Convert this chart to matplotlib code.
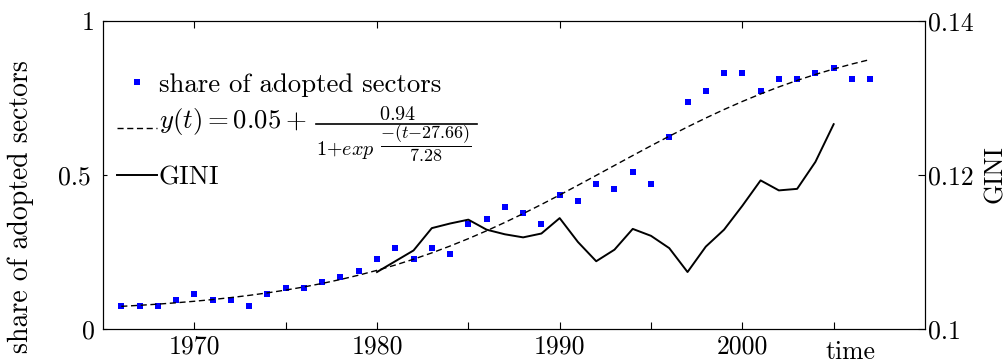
import numpy as np
import matplotlib
matplotlib.use("Agg")
import matplotlib.pyplot as plt
import matplotlib.transforms as mtransforms
from matplotlib.lines import Line2D

plt.rcParams["font.family"] = "cmr10"
plt.rcParams["mathtext.fontset"] = "cm"
plt.rcParams["axes.formatter.use_mathtext"] = True

# share of sectors that have adopted, per year
years = np.arange(1966, 2008)
share = [0.076, 0.076, 0.076, 0.094, 0.113, 0.094, 0.094, 0.076, 0.113, 0.132,
         0.132, 0.151, 0.170, 0.189, 0.226, 0.264, 0.226, 0.264, 0.245, 0.340,
         0.358, 0.396, 0.377, 0.340, 0.434, 0.415, 0.472, 0.453, 0.509, 0.472,
         0.623, 0.736, 0.774, 0.830, 0.830, 0.774, 0.811, 0.811, 0.830, 0.849,
         0.811, 0.811]

# logistic fit parameters (t counted in years from 1965)
fit_base, fit_amp, fit_mid, fit_scale = 0.05, 0.94, 27.66, 7.28
t0 = 1965

# GINI coefficient
gini_years = np.arange(1980, 2006)
gini = [0.1074, 0.1088, 0.1102, 0.1131, 0.1137, 0.1142, 0.1129, 0.1123, 0.1119,
        0.1124, 0.1144, 0.1113, 0.1088, 0.1103, 0.1130, 0.1121, 0.1105, 0.1074,
        0.1107, 0.1129, 0.1160, 0.1193, 0.1180, 0.1182, 0.1217, 0.1266]

xticks = [1970, 1980, 1990, 2000]
xminor = [1975, 1985, 1995, 2005]
left_ticks = [0, 0.5, 1]
left_labels = ["0", "0.5", "1"]
right_ticks = [0.1, 0.12, 0.14]
right_labels = ["0.1", "0.12", "0.14"]

FS = 18.5
LEG_FS = 19.3

fig = plt.figure(figsize=(10.07, 3.61), dpi=100)
W, H = 1007, 361
ax = fig.add_axes([103 / W, 1 - 329 / H, 822 / W, 308 / H])
ax2 = ax.twinx()

t = years - t0
fit = fit_base + fit_amp / (1 + np.exp(-(t - fit_mid) / fit_scale))

h1, = ax.plot(years, share, linestyle="none", marker="s", markersize=3.8,
              color="#0000ff", markeredgewidth=0)
h2, = ax.plot(years, fit, color="black", linewidth=1.0, dashes=(4.4, 2.6))
h3, = ax2.plot(gini_years, gini, color="black", linewidth=1.4)

ax.set_xlim(1965, 2010)
ax.set_ylim(0, 1)
ax2.set_ylim(0.1, 0.14)

ax.set_xticks(xticks)
ax.set_xticklabels([str(v) for v in xticks])
ax.set_xticks(xminor, minor=True)
ax.set_yticks(left_ticks)
ax.set_yticklabels(left_labels)
ax2.set_yticks(right_ticks)
ax2.set_yticklabels(right_labels)

ax.tick_params(axis="x", which="major", direction="in", top=True, bottom=True,
               length=5.2, width=0.8, labelsize=FS, pad=4)
ax.tick_params(axis="x", which="minor", direction="in", top=False, bottom=True,
               length=5.2, width=0.8)
ax.tick_params(axis="y", direction="in", left=True, right=False, length=2.6,
               width=0.8, labelsize=FS, pad=6)
ax2.tick_params(axis="y", direction="in", right=True, left=False, length=5.2,
                width=0.8, labelsize=FS, pad=2)

for sp in ax2.spines.values():
    sp.set_linewidth(0.8)
for sp in ax.spines.values():
    sp.set_linewidth(0.8)

# middle label on the left axis sits a little further out
lab = ax.get_yticklabels()[1]
lab.set_transform(lab.get_transform() +
                  mtransforms.ScaledTranslation(-4 / 100, 0, fig.dpi_scale_trans))

ax.annotate("time", xy=(2005.9, 0), xycoords=("data", "axes fraction"),
            xytext=(0, -8), textcoords="offset points",
            ha="center", va="top", fontsize=FS)

fig.text(21 / W, 1 - 207 / H, "share of adopted sectors", rotation=90,
         ha="center", va="center", fontsize=20)
fig.text(995 / W, 1 - 174 / H, "GINI", rotation=90,
         ha="center", va="center", fontsize=FS)

# legend; the fraction of the fit formula is typeset next to its label
fit_head = r"$y(t) = 0.05 +$"
fit_num = r"$0.94$"
fit_den = r"$1{+}exp$"
fit_exp = r"$\dfrac{{-}(t{-}27.66)}{7.28}$"

leg = ax.legend([h1, h2, h3], ["share of adopted sectors", fit_head, "GINI"],
                loc="upper left", bbox_to_anchor=((117 - 103) / 822, (329 - 73) / 308),
                frameon=False, fontsize=LEG_FS, handlelength=1.5, handletextpad=0.06,
                borderpad=0, borderaxespad=0, labelspacing=0.71, numpoints=1)

px = lambda v: v / fig.dpi
head = leg.get_texts()[1]
head.set_transform(head.get_transform() +
                   mtransforms.ScaledTranslation(0, px(9.5), fig.dpi_scale_trans))

fig.canvas.draw()
renderer = fig.canvas.get_renderer()
bb = head.get_window_extent(renderer)
xr = bb.x1
yc = 0.5 * (bb.y0 + bb.y1)
ident = mtransforms.IdentityTransform()

fig.add_artist(Line2D([xr + 10, xr + 171], [yc - 2.5, yc - 2.5], color="black",
                      linewidth=1.2, transform=ident))
fig.text(xr + 91, yc + 1.5, fit_num, transform=ident, ha="center",
         va="baseline", fontsize=14.5)
fig.text(xr + 10, yc - 33.0, fit_den, transform=ident, ha="left",
         va="baseline", fontsize=14.5)
fig.text(xr + 119, yc - 21.0, fit_exp, transform=ident, ha="center",
         va="center", fontsize=13)

fig.savefig("out.png", dpi=100)
